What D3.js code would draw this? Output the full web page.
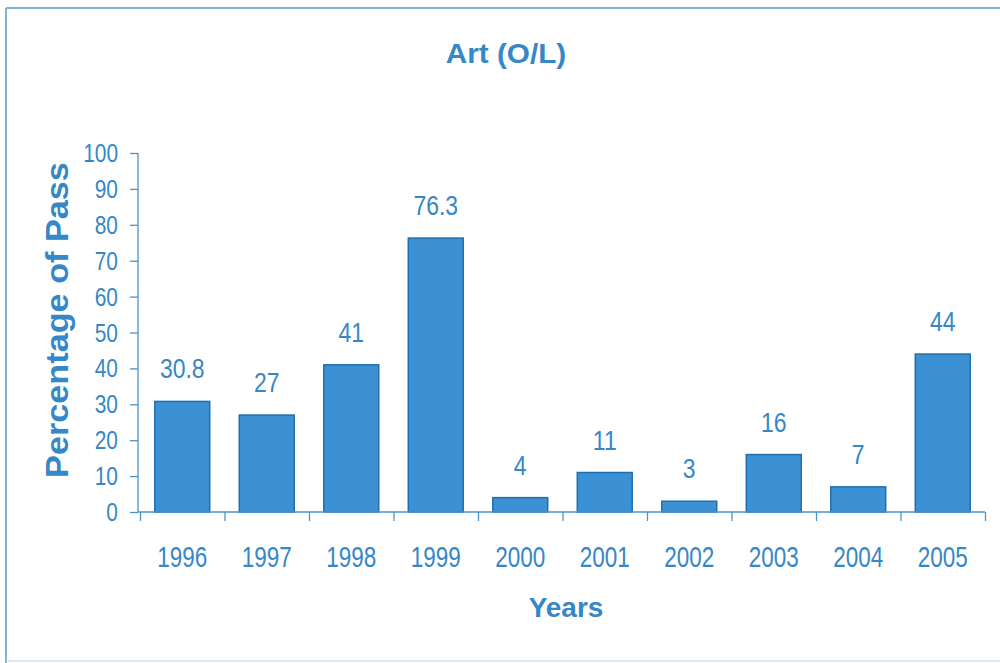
<!DOCTYPE html>
<html>
<head>
<meta charset="utf-8">
<script src="https://cdn.jsdelivr.net/npm/d3@7"></script>
<style>
  html, body { margin: 0; padding: 0; background: #ffffff; }
  svg { display: block; }
</style>
</head>
<body>
<svg id="chart" width="1000" height="663"></svg>
<script>
const years = ["1996","1997","1998","1999","2000","2001","2002","2003","2004","2005"];
const passRates = [30.8, 27, 41, 76.3, 4, 11, 3, 16, 7, 44];
const valueLabels = ["30.8","27","41","76.3","4","11","3","16","7","44"];
const yTicks = [0,10,20,30,40,50,60,70,80,90,100];
const title = "Art (O/L)";
const yTitle = "Percentage of Pass";
const xTitle = "Years";

const W = 1000, H = 663;
const svg = d3.select("#chart");
const textColor = "#3587c8";
const axisColor = "#4b93cb";
const fontFam = "'Liberation Sans', Arial, Helvetica, sans-serif";

// frame
svg.append("line").attr("x1", 6).attr("x2", W).attr("y1", 8).attr("y2", 8)
  .attr("stroke", "#7fb0d6").attr("stroke-width", 2);
svg.append("line").attr("x1", 6).attr("x2", 6).attr("y1", 8).attr("y2", H)
  .attr("stroke", "#7fb0d6").attr("stroke-width", 2);
svg.append("line").attr("x1", 6).attr("x2", W).attr("y1", 661).attr("y2", 661)
  .attr("stroke", "#cfe3f2").attr("stroke-width", 1.5);

const x = d3.scaleBand().domain(years).range([140, 985])
  .paddingInner(0.35).paddingOuter(0.175);
const y = d3.scaleLinear().domain([0, 100]).range([512, 153]);

function sText(g, tx, ty, str, size, sx, anchor, weight) {
  return g.append("text")
    .attr("transform", `translate(${tx},${ty}) scale(${sx},1)`)
    .attr("text-anchor", anchor)
    .attr("font-family", fontFam)
    .attr("font-size", size)
    .attr("font-weight", weight || "normal")
    .attr("fill", textColor)
    .text(str);
}

// title
sText(svg, 506, 63, title, 27, 1.1, "middle", "bold");

// y axis
const yAxis = d3.axisLeft(y).tickValues(yTicks).tickSize(8).tickFormat("");
const yg = svg.append("g").attr("transform", "translate(138,0)").call(yAxis);
yg.select(".domain").attr("stroke", axisColor).attr("stroke-width", 1.3).attr("d", `M0,${y(100)}V${y(0)}`);
yg.selectAll(".tick line").attr("stroke", axisColor).attr("stroke-width", 1.3);
yTicks.forEach(t => sText(svg, 118, y(t) + 9, String(t), 25.5, 0.82, "end"));

// y title
svg.append("text")
  .attr("transform", `translate(68,320) rotate(-90) scale(1.07,1)`)
  .attr("text-anchor", "middle")
  .attr("font-family", fontFam)
  .attr("font-size", 32)
  .attr("font-weight", "bold")
  .attr("fill", textColor)
  .text(yTitle);

// bars
svg.append("g").selectAll("rect").data(years).join("rect")
  .attr("x", d => x(d))
  .attr("y", (d, i) => y(passRates[i]))
  .attr("width", x.bandwidth())
  .attr("height", (d, i) => y(0) - y(passRates[i]))
  .attr("fill", "#3b91d4")
  .attr("stroke", "#1f6fae")
  .attr("stroke-width", 1.5);

// x axis with ticks at band boundaries
const step = x.step();
const x0 = x.range()[0];
const xScaleLin = d3.scaleLinear().domain([0, years.length]).range([x0, x0 + years.length * step]);
const xAxis = d3.axisBottom(xScaleLin).tickValues(d3.range(years.length + 1)).tickSize(9).tickFormat("");
const xg = svg.append("g").attr("transform", `translate(0,${y(0)})`).call(xAxis);
xg.select(".domain").attr("stroke", axisColor).attr("stroke-width", 1.3).attr("d", `M138,0H${x0 + years.length * step}`);
xg.selectAll(".tick line").attr("stroke", axisColor).attr("stroke-width", 1.3);

years.forEach(d => sText(svg, x(d) + x.bandwidth() / 2, 567, d, 30, 0.75, "middle"));

// value labels
years.forEach((d, i) => sText(svg, x(d) + x.bandwidth() / 2, y(passRates[i]) - 23, valueLabels[i], 28, 0.82, "middle"));

// x title
sText(svg, 566, 617, xTitle, 28, 1.0, "middle", "bold");
</script>
</body>
</html>
